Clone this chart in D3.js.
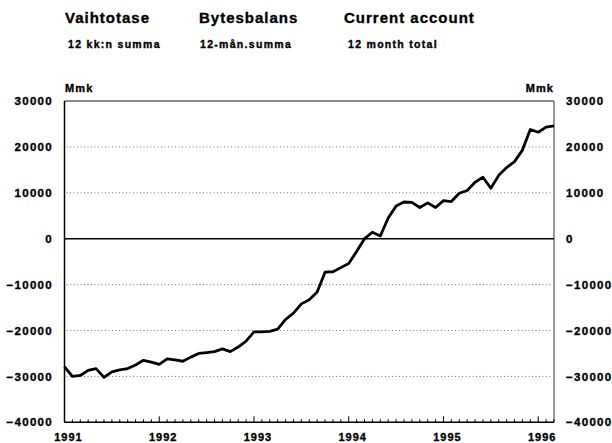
<!DOCTYPE html>
<html>
<head>
<meta charset="utf-8">
<script src="https://cdn.jsdelivr.net/npm/d3@7"></script>
<style>
  html, body { margin: 0; padding: 0; background: #fff; }
  svg { display: block; font-family: "Liberation Sans", Arial, sans-serif; font-weight: bold; }
  svg text { stroke: #000; stroke-width: 0.35px; }
</style>
</head>
<body>
<svg id="chart" width="612" height="443"></svg>
<script>
// ---- data (monthly 12-month total, Mmk, Jan 1991 .. Mar 1996) ----
const startYear = 1991;
const values = [
  -27900, -30000, -29800, -28700, -28300, -30200, -29000, -28600, -28300, -27500, -26500, -26900,
  -27400, -26200, -26400, -26700, -25800, -25000, -24800, -24600, -24000, -24600, -23600, -22300,
  -20300, -20300, -20200, -19700, -17600, -16200, -14200, -13300, -11600, -7300, -7200, -6300,
  -5400, -2800, 0, 1400, 600, 4500, 7100, 8000, 7900, 6800, 7800, 6800,
  8300, 8100, 9900, 10500, 12300, 13400, 11000, 13800, 15500, 16800, 19300, 23800,
  23200, 24300, 24600
];
const yearLabels = ["1991", "1992", "1993", "1994", "1995", "1996"];
const yTicks = [30000, 20000, 10000, 0, -10000, -20000, -30000, -40000];
const gridTicks = [20000, 10000, -10000, -20000, -30000];
const titles = ["Vaihtotase", "Bytesbalans", "Current account"];
const subtitles = ["12 kk:n summa", "12-mån.summa", "12 month total"];
const unitLabel = "Mmk";

// ---- layout ----
const svg = d3.select("#chart");
const pLeft = 64.5, pRight = 554, pTop = 101, pBottom = 422.3;

const x = d3.scaleLinear().domain([0, values.length - 1]).range([pLeft, pRight]);
const y = d3.scaleLinear().domain([-40000, 30000]).range([pBottom, pTop]);

// titles
const titleX = [65, 199, 344];
const subX = [68, 200, 348];
svg.selectAll("text.title").data(titles).join("text")
  .attr("class", "title")
  .attr("x", (d, i) => titleX[i]).attr("y", 23)
  .attr("font-size", 15).attr("letter-spacing", 1)
  .text(d => d);
svg.selectAll("text.sub").data(subtitles).join("text")
  .attr("class", "sub")
  .attr("x", (d, i) => subX[i]).attr("y", 48)
  .attr("font-size", 10.5).attr("letter-spacing", 1.3)
  .text(d => d);

// unit labels
svg.append("text").attr("x", 65).attr("y", 92).attr("font-size", 11).attr("letter-spacing", 1.1).text(unitLabel);
svg.append("text").attr("x", 554).attr("y", 92).attr("font-size", 11).attr("letter-spacing", 1.1)
  .attr("text-anchor", "end").text(unitLabel);

// gridlines (dotted)
svg.append("g").selectAll("line").data(gridTicks).join("line")
  .attr("x1", pLeft + 2).attr("x2", pRight - 2)
  .attr("y1", d => y(d)).attr("y2", d => y(d))
  .attr("stroke", "#777").attr("stroke-width", 1).attr("stroke-dasharray", "1,2.5");

// top border (30000) and right border
svg.append("line").attr("x1", pLeft).attr("x2", pRight).attr("y1", y(30000)).attr("y2", y(30000))
  .attr("stroke", "#666").attr("stroke-width", 1.5);
svg.append("line").attr("x1", pRight).attr("x2", pRight).attr("y1", y(30000)).attr("y2", y(-40000))
  .attr("stroke", "#777").attr("stroke-width", 1.5);

// zero line
svg.append("line").attr("x1", pLeft).attr("x2", pRight).attr("y1", y(0)).attr("y2", y(0))
  .attr("stroke", "#000").attr("stroke-width", 1.5);

// left axis line
svg.append("line").attr("x1", pLeft).attr("x2", pLeft).attr("y1", y(30000)).attr("y2", y(-40000))
  .attr("stroke", "#000").attr("stroke-width", 1.5);

// y tick labels (left & right)
const yAxisL = d3.axisLeft(y).tickValues(yTicks).tickSize(0).tickPadding(0).tickFormat(d3.format("d"));
const gL = svg.append("g").attr("transform", `translate(${53},0)`).call(yAxisL);
gL.select(".domain").remove();
gL.selectAll("text").attr("font-size", 11.5).attr("letter-spacing", 1.3)
  .attr("font-family", "Liberation Sans, Arial, sans-serif").attr("font-weight", "bold").attr("fill", "#000");

const yAxisR = d3.axisRight(y).tickValues(yTicks).tickSize(0).tickPadding(0).tickFormat(d3.format("d"));
const gR = svg.append("g").attr("transform", `translate(${566},0)`).call(yAxisR);
gR.select(".domain").remove();
gR.selectAll("text").attr("font-size", 11.5).attr("letter-spacing", 1.3)
  .attr("font-family", "Liberation Sans, Arial, sans-serif").attr("font-weight", "bold").attr("fill", "#000");

// bottom axis: month minor ticks and year ticks
svg.append("line").attr("x1", pLeft).attr("x2", pRight).attr("y1", pBottom).attr("y2", pBottom)
  .attr("stroke", "#000").attr("stroke-width", 1.5);
const monthIdx = d3.range(values.length);
svg.append("g").selectAll("line").data(monthIdx).join("line")
  .attr("x1", d => x(d)).attr("x2", d => x(d))
  .attr("y1", pBottom).attr("y2", d => d % 12 === 0 ? pBottom - 6 : pBottom - 3)
  .attr("stroke", "#000").attr("stroke-width", 1);

svg.append("g").selectAll("text").data(yearLabels).join("text")
  .attr("x", (d, i) => x(i * 12) + 4).attr("y", 441)
  .attr("text-anchor", "middle").attr("font-size", 11).attr("letter-spacing", 1)
  .text(d => d);

// data line
const line = d3.line().x((d, i) => x(i)).y(d => y(d));
svg.append("path").datum(values)
  .attr("d", line).attr("fill", "none").attr("stroke", "#000")
  .attr("stroke-width", 2.8).attr("stroke-linejoin", "round");
</script>
</body>
</html>
